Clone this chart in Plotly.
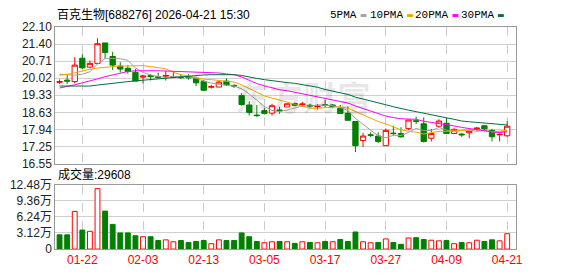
import plotly.graph_objects as go

# ---------------- data ----------------
title_text = "百克生物[688276] 2026-04-21 15:30"
volume_title = "成交量:29608"

tick_idx = [3, 11, 19, 27, 35, 43, 51, 59]
tick_dates = ["01-22", "02-03", "02-13", "03-05", "03-17", "03-27", "04-09", "04-21"]

price_ticks = [16.55, 17.24, 17.94, 18.63, 19.33, 20.02, 20.71, 21.40, 22.10]
price_tick_text = ["16.55", "17.25", "17.94", "18.63", "19.33", "20.02", "20.71", "21.40", "22.10"]

vol_ticks = [0, 31200, 62400, 93600, 124800]
vol_tick_text = ["0", "3.12万", "6.24万", "9.36万", "12.48万"]

opens = [19.85, 19.94, 19.88, 20.83, 20.47, 20.62, 21.45, 20.90, 20.51, 20.42,
         20.26, 20.06, 20.13, 20.08, 20.10, 20.05, 20.08, 20.09, 20.01, 19.89,
         19.65, 19.66, 19.90, 19.72, 19.31, 18.93, 18.52, 18.70, 18.60, 18.73,
         18.85, 18.99, 18.94, 18.92, 18.86, 18.94, 18.93, 18.80, 18.59, 18.26,
         17.49, 17.72, 17.67, 17.28, 17.79, 17.77, 17.97, 18.29, 18.17, 17.58,
         18.07, 18.19, 17.77, 17.75, 17.80, 17.96, 18.09, 17.90, 17.72, 17.68]
highs = [19.97, 20.18, 20.87, 20.99, 20.74, 21.64, 21.45, 21.09, 20.67, 20.55,
         20.39, 20.16, 20.18, 20.25, 20.31, 20.28, 20.18, 20.18, 20.08, 19.95,
         19.75, 19.93, 20.01, 19.78, 19.41, 19.08, 18.93, 18.80, 18.98, 18.86,
         19.00, 19.03, 19.06, 18.98, 18.97, 19.12, 18.97, 18.93, 18.87, 18.26,
         17.80, 17.82, 17.82, 17.98, 18.09, 18.03, 18.33, 18.45, 18.43, 17.96,
         18.35, 18.40, 17.99, 17.80, 17.87, 18.04, 18.09, 17.96, 17.77, 18.28]
lows = [19.78, 19.78, 19.81, 20.39, 20.42, 20.62, 20.80, 20.35, 20.25, 20.20,
        19.90, 19.81, 19.93, 20.00, 19.92, 20.05, 19.98, 19.96, 19.70, 19.53,
        19.60, 19.66, 19.70, 19.62, 18.90, 18.50, 18.45, 18.54, 18.50, 18.57,
        18.85, 18.88, 18.85, 18.82, 18.75, 18.82, 18.80, 18.57, 18.31, 17.02,
        17.23, 17.63, 17.39, 17.28, 17.70, 17.60, 17.91, 18.16, 17.41, 17.45,
        18.05, 17.77, 17.77, 17.64, 17.58, 17.88, 17.86, 17.45, 17.45, 17.64]
closes = [19.88, 19.90, 20.55, 20.44, 20.62, 21.42, 21.06, 20.55, 20.39, 20.29,
          19.90, 20.11, 20.08, 20.05, 20.13, 20.08, 20.04, 20.03, 19.83, 19.53,
          19.68, 19.86, 19.75, 19.70, 18.95, 18.63, 18.50, 18.59, 18.90, 18.70,
          18.98, 18.92, 18.97, 18.89, 18.88, 18.92, 18.86, 18.59, 18.31, 17.28,
          17.67, 17.70, 17.45, 17.90, 17.77, 17.64, 18.32, 18.27, 17.45, 17.77,
          18.28, 17.77, 17.94, 17.72, 17.87, 17.99, 17.96, 17.64, 17.74, 18.07]

ma5 = [20.18, 20.16, 20.14, 20.18, 20.28, 20.59, 20.82, 20.82, 20.81, 20.74,
       20.44, 20.25, 20.15, 20.09, 20.05, 20.09, 20.08, 20.07, 20.02, 19.90,
       19.82, 19.79, 19.73, 19.70, 19.59, 19.38, 19.11, 18.87, 18.71, 18.66,
       18.73, 18.82, 18.89, 18.89, 18.93, 18.92, 18.90, 18.83, 18.71, 18.39,
       18.14, 17.91, 17.68, 17.60, 17.70, 17.69, 17.82, 17.98, 17.89, 17.89,
       18.02, 17.91, 17.84, 17.90, 17.92, 17.86, 17.90, 17.84, 17.84, 17.88]
ma10 = [20.14, 20.17, 20.24, 20.32, 20.38, 20.43, 20.47, 20.49, 20.51, 20.51,
        20.51, 20.53, 20.49, 20.45, 20.40, 20.26, 20.16, 20.11, 20.05, 19.98,
        19.96, 19.93, 19.90, 19.86, 19.75, 19.60, 19.45, 19.30, 19.21, 19.13,
        19.06, 18.96, 18.88, 18.80, 18.80, 18.83, 18.86, 18.86, 18.80, 18.66,
        18.53, 18.41, 18.26, 18.16, 18.05, 17.92, 17.86, 17.83, 17.75, 17.79,
        17.86, 17.86, 17.91, 17.89, 17.90, 17.94, 17.90, 17.84, 17.87, 17.90]
ma20 = [19.62, 19.67, 19.75, 19.83, 19.90, 19.99, 20.08, 20.16, 20.23, 20.29,
        20.32, 20.33, 20.33, 20.32, 20.31, 20.30, 20.28, 20.27, 20.26, 20.24,
        20.23, 20.23, 20.19, 20.16, 20.07, 19.93, 19.80, 19.71, 19.63, 19.55,
        19.51, 19.45, 19.39, 19.33, 19.27, 19.21, 19.15, 19.08, 19.01, 18.89,
        18.79, 18.68, 18.57, 18.48, 18.42, 18.37, 18.36, 18.35, 18.27, 18.23,
        18.19, 18.13, 18.08, 18.02, 17.97, 17.93, 17.88, 17.84, 17.81, 17.85]
ma30 = [19.70, 19.70, 19.70, 19.70, 19.70, 19.74, 19.78, 19.82, 19.85, 19.88,
        19.91, 19.94, 19.97, 20.00, 20.03, 20.06, 20.09, 20.11, 20.13, 20.15,
        20.16, 20.17, 20.17, 20.16, 20.13, 20.06, 20.01, 19.96, 19.91, 19.87,
        19.84, 19.81, 19.76, 19.70, 19.65, 19.56, 19.49, 19.42, 19.36, 19.25,
        19.18, 19.10, 19.01, 18.94, 18.86, 18.78, 18.72, 18.66, 18.59, 18.53,
        18.48, 18.41, 18.35, 18.28, 18.25, 18.23, 18.21, 18.18, 18.14, 18.12]

volumes = [27500, 27500, 72800, 36700, 34300, 116900, 73400, 47700, 31200, 31200,
           25700, 23900, 23900, 16500, 17800, 14100, 16500, 12800, 14700, 16500,
           10400, 17800, 16500, 16500, 31200, 23900, 14700, 12200, 14100, 14700,
           14100, 11000, 14100, 12800, 12200, 14700, 14100, 18400, 14700, 33000,
           14100, 12200, 12800, 19600, 12800, 9200, 21400, 22000, 18400, 17100,
           15900, 16500, 10400, 12800, 12200, 17100, 14700, 17800, 15900, 29608]
vol_up = [0, 0, 1, 0, 1, 1, 0, 0, 0, 0,
          0, 1, 0, 0, 1, 1, 0, 0, 0, 0,
          1, 1, 0, 0, 0, 0, 0, 1, 1, 0,
          1, 0, 1, 0, 1, 0, 1, 0, 0, 0,
          1, 1, 0, 1, 0, 0, 1, 0, 0, 1,
          1, 0, 1, 0, 1, 1, 0, 0, 1, 1]

ma_names = ["5PMA", "10PMA", "20PMA", "30PMA"]
ma_colors = ["#a0a0a0", "#f5a300", "#ff00ff", "#00703c"]

# ---------------- figure ----------------
W, H = 578, 276
RED, GREEN = "#ff0000", "#008000"
idx = list(range(len(closes)))


def px(x):
    return x / W


def py(y):
    return 1 - y / H


fig = go.Figure()

fig.add_trace(go.Candlestick(
    x=idx, open=opens, high=highs, low=lows, close=closes,
    increasing=dict(line=dict(color=RED, width=1), fillcolor="white"),
    decreasing=dict(line=dict(color=GREEN, width=1), fillcolor=GREEN),
    whiskerwidth=0, showlegend=False, hoverinfo="skip",
    xaxis="x", yaxis="y"))

for vals, col in zip([ma5, ma10, ma20, ma30], ma_colors):
    fig.add_trace(go.Scatter(x=idx, y=vals, mode="lines",
                             line=dict(color=col, width=1),
                             showlegend=False, hoverinfo="skip",
                             xaxis="x", yaxis="y"))

fig.add_trace(go.Bar(
    x=idx, y=volumes, width=0.64,
    marker=dict(color=["white" if u else GREEN for u in vol_up],
                line=dict(color=[RED if u else GREEN for u in vol_up], width=1)),
    showlegend=False, hoverinfo="skip", xaxis="x2", yaxis="y2"))

xr = [-0.56, 60.12]
dom_x = [px(56), px(522)]
axis_common = dict(showline=True, mirror=True, linecolor="#999999", linewidth=1,
                   zeroline=False, ticks="")
fig.update_layout(
    width=W, height=H,
    margin=dict(l=0, r=0, t=0, b=0),
    paper_bgcolor="white", plot_bgcolor="white",
    boxgap=0.3, boxgroupgap=0,
    font=dict(family="Arial, 'Liberation Sans', 'Noto Sans CJK SC'", size=12, color="#222222"),
    xaxis=dict(domain=dom_x, range=xr, anchor="y", tickvals=tick_idx, showticklabels=False,
               showgrid=True, gridcolor="#cccccc", griddash="dash", gridwidth=1,
               rangeslider=dict(visible=False), **axis_common),
    yaxis=dict(domain=[py(165), py(21)], range=[16.55, 22.10], anchor="x",
               tickvals=price_ticks, ticktext=price_tick_text,
               showgrid=True, gridcolor="#d0d0d0", gridwidth=1,
               tickfont=dict(size=12, color="#222222"), **axis_common),
    xaxis2=dict(domain=dom_x, range=xr, anchor="y2", tickvals=tick_idx, ticktext=tick_dates,
                tickfont=dict(size=12, color=RED),
                showgrid=True, gridcolor="#cccccc", griddash="dash", gridwidth=1,
                **axis_common),
    yaxis2=dict(domain=[py(255), py(187)], range=[0, 124800], anchor="x2",
                tickvals=vol_ticks, ticktext=vol_tick_text,
                showgrid=True, gridcolor="#d0d0d0", gridwidth=1,
                tickfont=dict(size=12, color="#222222"), **axis_common),
)

annotations = [
    dict(text="<b>东方财富</b>", x=px(307), y=py(94), xref="paper", yref="paper",
         showarrow=False, xanchor="center", yanchor="middle",
         font=dict(family="Noto Sans CJK SC", size=34, color="rgba(0,0,0,0.09)")),
    dict(text=title_text, x=px(56), y=py(8.5), xref="paper", yref="paper",
         showarrow=False, xanchor="left", yanchor="middle",
         font=dict(family="Arial, 'Liberation Sans', 'Noto Sans CJK SC'", size=12, color="#000000")),
    dict(text=volume_title, x=px(57), y=py(176.5), xref="paper", yref="paper",
         showarrow=False, xanchor="left", yanchor="middle",
         font=dict(family="Arial, 'Liberation Sans', 'Noto Sans CJK SC'", size=12, color="#000000")),
]
shapes = []
legend_right = [363, 410, 456, 502]
for name, col, xr_ in zip(ma_names, ma_colors, legend_right):
    annotations.append(dict(text=name, x=px(xr_), y=py(8.5), xref="paper", yref="paper",
                            showarrow=False, xanchor="right", yanchor="middle",
                            font=dict(family="'Liberation Mono', monospace", size=11, color="#000000")))
    shapes.append(dict(type="rect", xref="paper", yref="paper",
                       x0=px(xr_ + 2), x1=px(xr_ + 8), y0=py(10.5), y1=py(7.5),
                       fillcolor=col, line=dict(width=0)))

fig.update_layout(annotations=annotations, shapes=shapes)

fig.write_html("out.html")
